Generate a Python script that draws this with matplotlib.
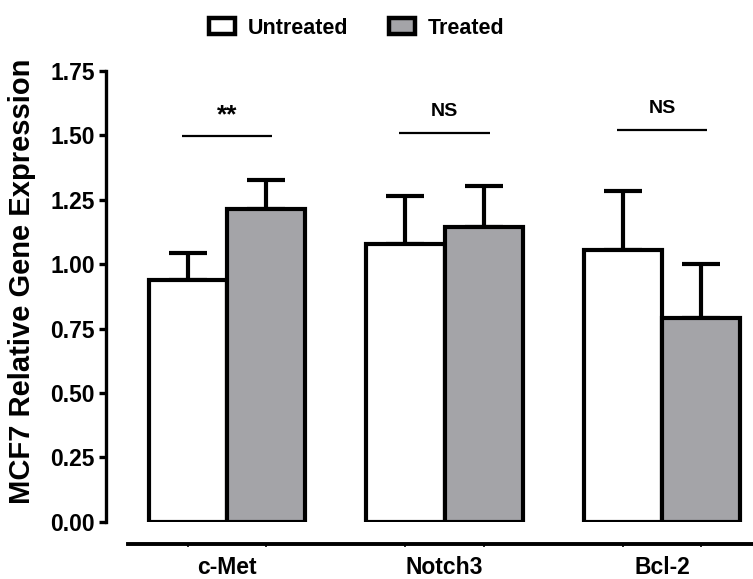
import matplotlib
matplotlib.use("Agg")
import matplotlib.pyplot as plt
from matplotlib.patches import Patch
import numpy as np

plt.rcParams['font.family'] = ['Liberation Sans', 'DejaVu Sans']

genes = ["c-Met", "Notch3", "Bcl-2"]
untreated_mean = [0.94, 1.08, 1.055]
untreated_sem = [0.105, 0.185, 0.23]
treated_mean = [1.213, 1.145, 0.79]
treated_sem = [0.115, 0.16, 0.21]
sig_labels = ["**", "NS", "NS"]
sig_heights = [1.497, 1.508, 1.522]
y_ticks = [0.00, 0.25, 0.50, 0.75, 1.00, 1.25, 1.50, 1.75]

W, H = 753, 579
fig = plt.figure(figsize=(W / 100, H / 100), dpi=100)

left_px, right_px = 106, 753
bottom_px, top_px = 521.7, 71
ax = fig.add_axes([left_px / W, 1 - bottom_px / H,
                   (right_px - left_px) / W, (bottom_px - top_px) / H])

x = np.arange(len(genes))
bw = 0.36
grey = "#a4a4a8"
lw = 3.0

ax.bar(x - bw / 2, untreated_mean, bw, color="white", edgecolor="black",
       linewidth=lw, zorder=3, joinstyle="miter")
ax.bar(x + bw / 2, treated_mean, bw, color=grey, edgecolor="black",
       linewidth=lw, zorder=3, joinstyle="miter")

for xs, m, e in [(x - bw / 2, untreated_mean, untreated_sem),
                 (x + bw / 2, treated_mean, treated_sem)]:
    ax.errorbar(xs, m, yerr=[np.zeros(len(e)), e], fmt="none", ecolor="black",
                elinewidth=3, capsize=13.5, capthick=3, zorder=2)

# significance brackets
for xi, h, lab in zip(x, sig_heights, sig_labels):
    ax.plot([xi - 0.207, xi + 0.207], [h, h], color="black", lw=1.6,
            solid_capstyle="butt", clip_on=False)
    if lab == "**":
        ax.text(xi, h + 0.035, lab, ha="center", va="bottom", fontsize=19,
                fontweight="bold", clip_on=False)
    else:
        ax.text(xi, h + 0.05, lab, ha="center", va="bottom", fontsize=14,
                fontweight="bold", clip_on=False)

ax.set_xlim((left_px - 227) / 217.5, (right_px - 227) / 217.5)
ax.set_ylim(0, 1.75)

for s in ["top", "right"]:
    ax.spines[s].set_visible(False)
ax.spines["left"].set_linewidth(2.4)
ax.spines["bottom"].set_linewidth(2.8)
ax.spines["bottom"].set_position(("outward", 16))
ax.spines["bottom"].set_bounds((128 - 227) / 217.5, (right_px - 227) / 217.5)

ax.set_yticks(y_ticks)
ax.set_yticklabels([f"{v:.2f}" for v in y_ticks], fontsize=16.5, fontweight="bold")
ax.tick_params(axis="y", length=5, width=2.4, pad=3)

ax.set_xticks(x)
ax.set_xticklabels(genes, fontsize=16.5, fontweight="bold")
ax.tick_params(axis="x", which="major", length=0, pad=9)
ax.set_xticks(np.concatenate([x - bw / 2, x + bw / 2]), minor=True)
ax.tick_params(axis="x", which="minor", length=2.5, width=1.2)

fig.text(22 / W, 1 - 281 / H, "MCF7 Relative Gene Expression", rotation=90,
         ha="center", va="center", fontsize=21, fontweight="bold")

handles = [Patch(facecolor="white", edgecolor="black", linewidth=3.2),
           Patch(facecolor=grey, edgecolor="black", linewidth=3.2)]
fig.legend(handles, ["Untreated", "Treated"], loc="center",
           bbox_to_anchor=(356.5 / W, 1 - 28 / H), ncol=2, frameon=False,
           prop={"size": 15.5, "weight": "bold"}, handlelength=1.2,
           handleheight=0.78, handletextpad=0.6, columnspacing=1.9,
           borderpad=0)

fig.savefig("out.png", dpi=100)
